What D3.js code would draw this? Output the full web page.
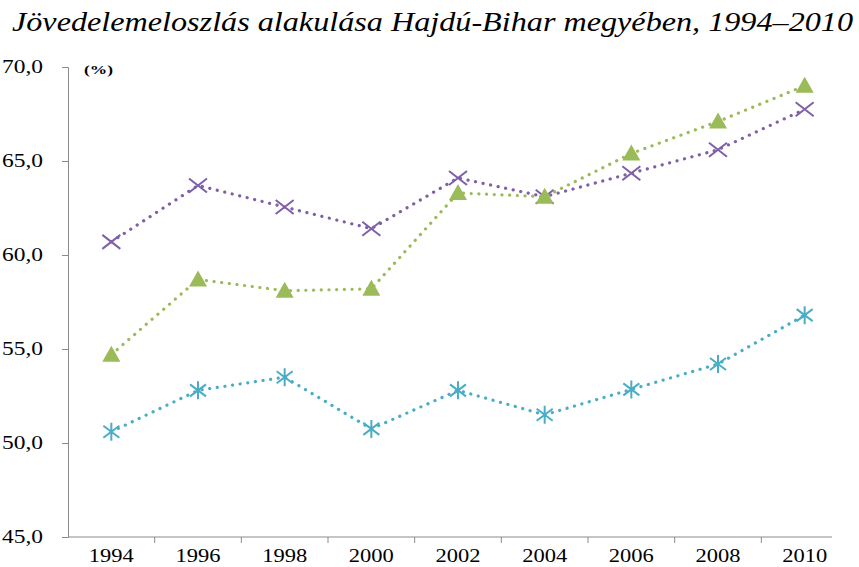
<!DOCTYPE html>
<html>
<head>
<meta charset="utf-8">
<script src="https://cdn.jsdelivr.net/npm/d3@7"></script>
<style>
  body { margin: 0; background: #fff; }
  svg { display: block; }
</style>
</head>
<body>
<div id="chart"></div>
<script>
const years = ["1994", "1996", "1998", "2000", "2002", "2004", "2006", "2008", "2010"];
const purpleValues = [60.7, 63.7, 62.55, 61.4, 64.1, 63.1, 64.35, 65.6, 67.75];
const greenValues = [54.7, 58.7, 58.1, 58.2, 63.3, 63.1, 65.4, 67.1, 69.0];
const blueValues = [50.6, 52.8, 53.5, 50.75, 52.8, 51.5, 52.85, 54.2, 56.8];
const yTicks = [45, 50, 55, 60, 65, 70];

const series = [
  { values: purpleValues, color: "#7f60a8", marker: "x" },
  { values: greenValues, color: "#9bbb59", marker: "triangle" },
  { values: blueValues, color: "#4bacc6", marker: "star" },
];

const width = 859;
const height = 567;
const plotLeft = 68;
const plotRight = 848;
const plotTop = 67;
const plotBottom = 537;

const svg = d3.select("#chart")
  .append("svg")
  .attr("width", width)
  .attr("height", height);

const serif = "\"Liberation Serif\", \"Times New Roman\", \"DejaVu Serif\", serif";

svg.append("text")
  .attr("x", 12)
  .attr("y", 31)
  .attr("textLength", 841)
  .attr("lengthAdjust", "spacingAndGlyphs")
  .style("font-family", serif)
  .style("font-style", "italic")
  .style("font-size", "28px")
  .text("Jövedelemeloszlás alakulása Hajdú-Bihar megyében, 1994–2010");

const x = d3.scaleBand().domain(years).range([plotLeft, plotRight]);
const y = d3.scaleLinear().domain([45, 70]).range([plotBottom, plotTop]);

// y axis
const yAxis = svg.append("g")
  .attr("transform", "translate(" + plotLeft + ",0)")
  .call(d3.axisLeft(y).tickValues(yTicks).tickSize(6).tickPadding(19)
    .tickFormat(d => d3.format(".1f")(d).replace(".", ",")));
yAxis.select(".domain").attr("stroke", "#8c8c8c");
yAxis.selectAll(".tick line").attr("stroke", "#8c8c8c");
yAxis.selectAll("text")
  .attr("fill", "#000")
  .attr("dy", "0.3em")
  .attr("textLength", 41)
  .attr("lengthAdjust", "spacingAndGlyphs")
  .style("font-family", serif)
  .style("font-size", "18px");

// x axis
const xAxis = svg.append("g")
  .attr("transform", "translate(0," + plotBottom + ")")
  .call(d3.axisBottom(x).tickSize(0).tickPadding(12));
xAxis.select(".domain").remove();
xAxis.selectAll("text")
  .attr("fill", "#000")
  .attr("textLength", 45)
  .attr("lengthAdjust", "spacingAndGlyphs")
  .style("font-family", serif)
  .style("font-size", "18px");

svg.append("line")
  .attr("x1", plotLeft).attr("x2", 832)
  .attr("y1", plotBottom).attr("y2", plotBottom)
  .attr("stroke", "#8c8c8c");

svg.selectAll(null)
  .data(years.slice(1))
  .enter()
  .append("line")
  .attr("x1", d => x(d)).attr("x2", d => x(d))
  .attr("y1", plotBottom).attr("y2", plotBottom + 6)
  .attr("stroke", "#8c8c8c");

svg.append("text")
  .attr("x", 84)
  .attr("y", 74)
  .attr("textLength", 29)
  .attr("lengthAdjust", "spacingAndGlyphs")
  .style("font-family", serif)
  .style("font-weight", "bold")
  .style("font-size", "13px")
  .text("(%)");

const cx = d => x(d) + x.bandwidth() / 2;

const line = d3.line()
  .x((d, i) => cx(years[i]))
  .y(d => y(d));

series.forEach(s => {
  svg.append("path")
    .datum(s.values)
    .attr("fill", "none")
    .attr("stroke", s.color)
    .attr("stroke-width", 3.2)
    .attr("stroke-linecap", "round")
    .attr("stroke-dasharray", "0.1 7.6")
    .attr("d", line);

  const g = svg.selectAll(null)
    .data(s.values)
    .enter()
    .append("g")
    .attr("transform", (d, i) => "translate(" + cx(years[i]) + "," + y(d) + ")");

  if (s.marker === "x") {
    g.append("path")
      .attr("d", "M-9,-7L9,7M-9,7L9,-7")
      .attr("stroke", s.color)
      .attr("stroke-width", 2);
  } else if (s.marker === "triangle") {
    g.append("path")
      .attr("d", "M0,-9L9,7L-9,7Z")
      .attr("fill", s.color);
  } else {
    g.append("path")
      .attr("d", "M-8,-6L8,6M-8,6L8,-6M0,-9L0,9")
      .attr("stroke", s.color)
      .attr("stroke-width", 2);
  }
});
</script>
</body>
</html>
